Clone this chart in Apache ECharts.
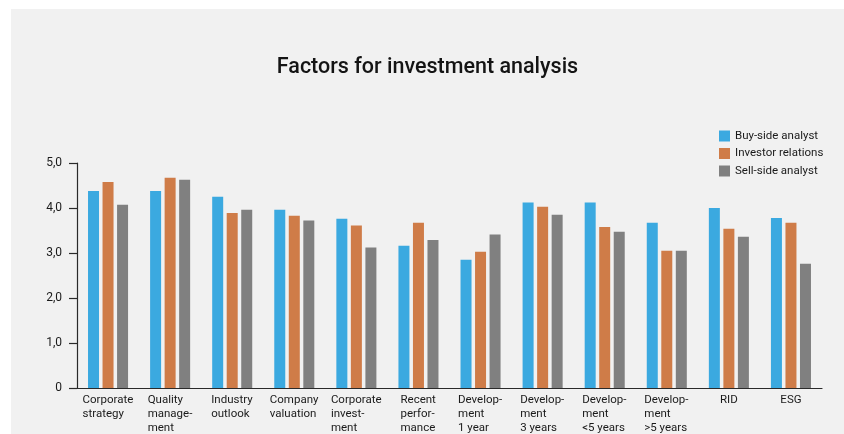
<!DOCTYPE html>
<html>
<head>
<meta charset="utf-8">
<script src="https://cdn.jsdelivr.net/npm/echarts@6/dist/echarts.min.js"></script>
<style>
  html, body { margin: 0; padding: 0; background: #ffffff; }
  #chart { position: absolute; left: 11px; top: 9px; width: 833px; height: 425px; background: #f1f1f1; }
</style>
</head>
<body>
<div id="chart"></div>
<script>
// categories, line breaks as in the picture
const categories = [
  "Corporate\nstrategy", "Quality\nmanage-\nment", "Industry\noutlook", "Company\nvaluation",
  "Corporate\ninvest-\nment", "Recent\nperfor-\nmance", "Develop-\nment\n1 year", "Develop-\nment\n3 years",
  "Develop-\nment\n<5 years", "Develop-\nment\n>5 years", "RID", "ESG"
];
const buySide = [4.38, 4.38, 4.25, 3.96, 3.76, 3.16, 2.85, 4.12, 4.12, 3.67, 4.00, 3.78];
const investorRelations = [4.58, 4.67, 3.89, 3.83, 3.61, 3.67, 3.03, 4.03, 3.58, 3.05, 3.54, 3.67];
const sellSide = [4.07, 4.63, 3.96, 3.72, 3.12, 3.29, 3.41, 3.85, 3.47, 3.05, 3.36, 2.76];
const yTicks = [0, 1, 2, 3, 4, 5];

const FONT = "Roboto, 'Noto Sans', sans-serif";
const labelSize = 11.5;

// left-aligned lines inside a centred block: one rich style per label
const ctx = document.createElement("canvas").getContext("2d");
ctx.font = labelSize + "px Roboto";
const rich = {};
categories.forEach((c, i) => {
  const w = Math.max(...c.split("\n").map(s => ctx.measureText(s).width));
  rich["c" + i] = {
    width: Math.ceil(w),
    align: c.indexOf("\n") < 0 ? "center" : "left",
    fontSize: labelSize,
    fontFamily: FONT,
    color: "#1a1a1a",
    lineHeight: 14
  };
});

const chart = echarts.init(document.getElementById("chart"));
chart.setOption({
  backgroundColor: "#f1f1f1",
  animation: false,
  textStyle: { fontFamily: FONT },
  title: {
    text: "Factors for investment analysis",
    left: "center",
    top: 43,
    textStyle: { fontSize: 21.5, fontWeight: 500, color: "#141414", fontFamily: FONT }
  },
  legend: {
    orient: "vertical",
    left: 708,
    top: 121,
    padding: 0,
    itemWidth: 11,
    itemHeight: 11,
    itemGap: 5.5,
    icon: "rect",
    textStyle: { fontSize: 11.5, color: "#1a1a1a", fontFamily: FONT },
    data: ["Buy-side analyst", "Investor relations", "Sell-side analyst"]
  },
  grid: { left: 66, right: 22, top: 154, bottom: 46, containLabel: false },
  xAxis: {
    type: "category",
    data: categories,
    axisLine: { lineStyle: { color: "#2a2a2a", width: 1.2 } },
    axisTick: { show: false },
    axisLabel: {
      interval: 0,
      margin: 5,
      verticalAlign: "top",
      formatter: (v, i) => v.split("\n").map(s => "{c" + i + "|" + s + "}").join("\n"),
      rich: rich
    }
  },
  yAxis: {
    type: "value",
    min: yTicks[0],
    max: yTicks[yTicks.length - 1],
    interval: 1,
    splitLine: { show: false },
    axisLine: { show: true, lineStyle: { color: "#2a2a2a", width: 1.2 } },
    axisTick: { show: true, length: 8, lineStyle: { color: "#2a2a2a", width: 1.2 } },
    axisLabel: {
      margin: 15,
      fontSize: 12,
      color: "#1a1a1a",
      formatter: v => v === 0 ? "0" : v.toFixed(1).replace(".", ",")
    }
  },
  series: [
    { name: "Buy-side analyst", type: "bar", data: buySide, barWidth: 11, barGap: "32%", itemStyle: { color: "#3ba9e0" } },
    { name: "Investor relations", type: "bar", data: investorRelations, barWidth: 11, barGap: "32%", itemStyle: { color: "#cf7c48" } },
    { name: "Sell-side analyst", type: "bar", data: sellSide, barWidth: 11, barGap: "32%", itemStyle: { color: "#808080" } }
  ]
});
</script>
</body>
</html>
